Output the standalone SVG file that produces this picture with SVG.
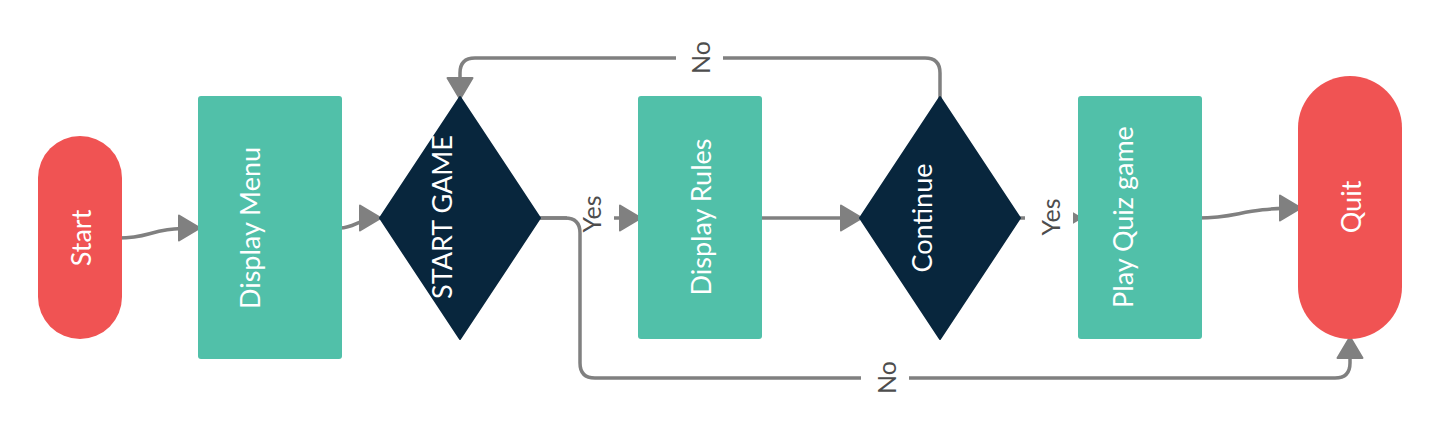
<svg xmlns="http://www.w3.org/2000/svg" width="1440" height="436" viewBox="0 0 1440 436">
<defs>
<style>
.term{fill:#F05353}
.proc{fill:#51C0A9}
.dec{fill:#08263D}
.ntext{font-family:Lato,"Liberation Sans",sans-serif;font-size:27px;fill:#FFFFFF;text-anchor:middle}
.edge{fill:none;stroke:#808080;stroke-width:3.5;stroke-linejoin:round}
.lbl{font-family:Lato,"Liberation Sans",sans-serif;font-size:25px;fill:#4D4D4D;text-anchor:middle}
.lblbg{fill:#FFFFFF}
</style>
<marker id="arrow" markerUnits="userSpaceOnUse" viewBox="0 0 23 28" markerWidth="23" markerHeight="28" refX="22" refY="14" orient="auto" overflow="visible">
<path d="M1,1.5 L22,14 L1,26.5 Z" fill="#808080" stroke="#808080" stroke-width="2" stroke-linejoin="round"/>
</marker>
</defs>
<rect width="1440" height="436" fill="#FFFFFF"/>

<g id="connectors">
<path class="edge" d="M118,238 C154,238 146,228 200,228" marker-end="url(#arrow)"/>
<path class="edge" d="M340,228 C356,228 358,218 381,218" marker-end="url(#arrow)"/>
<path class="edge" d="M540,218 H641" marker-end="url(#arrow)"/>
<rect class="lblbg" x="567" y="202" width="47" height="32"/>
<path class="edge" d="M540,218 H565 Q580,218 580,233 V363 Q580,378 595,378 H1335 Q1350,378 1350,363 V337" marker-end="url(#arrow)"/>
<rect class="lblbg" x="861" y="372" width="48" height="12"/>
<path class="edge" d="M760,218 H862" marker-end="url(#arrow)"/>
<path class="edge" d="M940,98 V73 Q940,58 925,58 H475 Q460,58 460,73 V99" marker-end="url(#arrow)"/>
<rect class="lblbg" x="676" y="52" width="47" height="12"/>
<path class="edge" d="M1020,218 H1081" marker-end="url(#arrow)"/>
<rect class="lblbg" x="1025" y="202" width="48" height="32"/>
<path class="edge" d="M1198,218 C1240,218 1240,208 1301,208" marker-end="url(#arrow)"/>
<text class="lbl" transform="translate(600.5,214) rotate(-90)">Yes</text>
<text class="lbl" transform="translate(895.5,377.5) rotate(-90)">No</text>
<text class="lbl" transform="translate(710,57.5) rotate(-90)">No</text>
<text class="lbl" transform="translate(1060,217) rotate(-90)">Yes</text>
</g>

<g id="start">
<rect class="term" x="38" y="136" width="84" height="203" rx="42"/>
<text class="ntext" transform="translate(90.7,238) rotate(-90)">Start</text>
</g>
<g id="display-menu">
<rect class="proc" x="198" y="96" width="144" height="263" rx="3"/>
<text class="ntext" transform="translate(260.2,228) rotate(-90)">Display Menu</text>
</g>
<g id="start-game">
<path class="dec" d="M460,97 L540,218 L460,339 L380,218 Z" stroke="#08263D" stroke-width="2" stroke-linejoin="round"/>
<text class="ntext" transform="translate(451.7,217) rotate(-90)">START GAME</text>
</g>
<g id="display-rules">
<rect class="proc" x="638" y="96" width="124" height="243" rx="3"/>
<text class="ntext" transform="translate(710.7,217) rotate(-90)">Display Rules</text>
</g>
<g id="continue">
<path class="dec" d="M940,97 L1020,218 L940,339 L860,218 Z" stroke="#08263D" stroke-width="2" stroke-linejoin="round"/>
<text class="ntext" transform="translate(931.7,218) rotate(-90)">Continue</text>
</g>
<g id="play-quiz">
<rect class="proc" x="1078" y="96" width="124" height="243" rx="3"/>
<text class="ntext" transform="translate(1132.7,217) rotate(-90)">Play Quiz game</text>
</g>
<g id="quit">
<rect class="term" x="1298" y="76" width="104" height="263" rx="52"/>
<text class="ntext" transform="translate(1360.7,207) rotate(-90)">Quit</text>
</g>
</svg>
